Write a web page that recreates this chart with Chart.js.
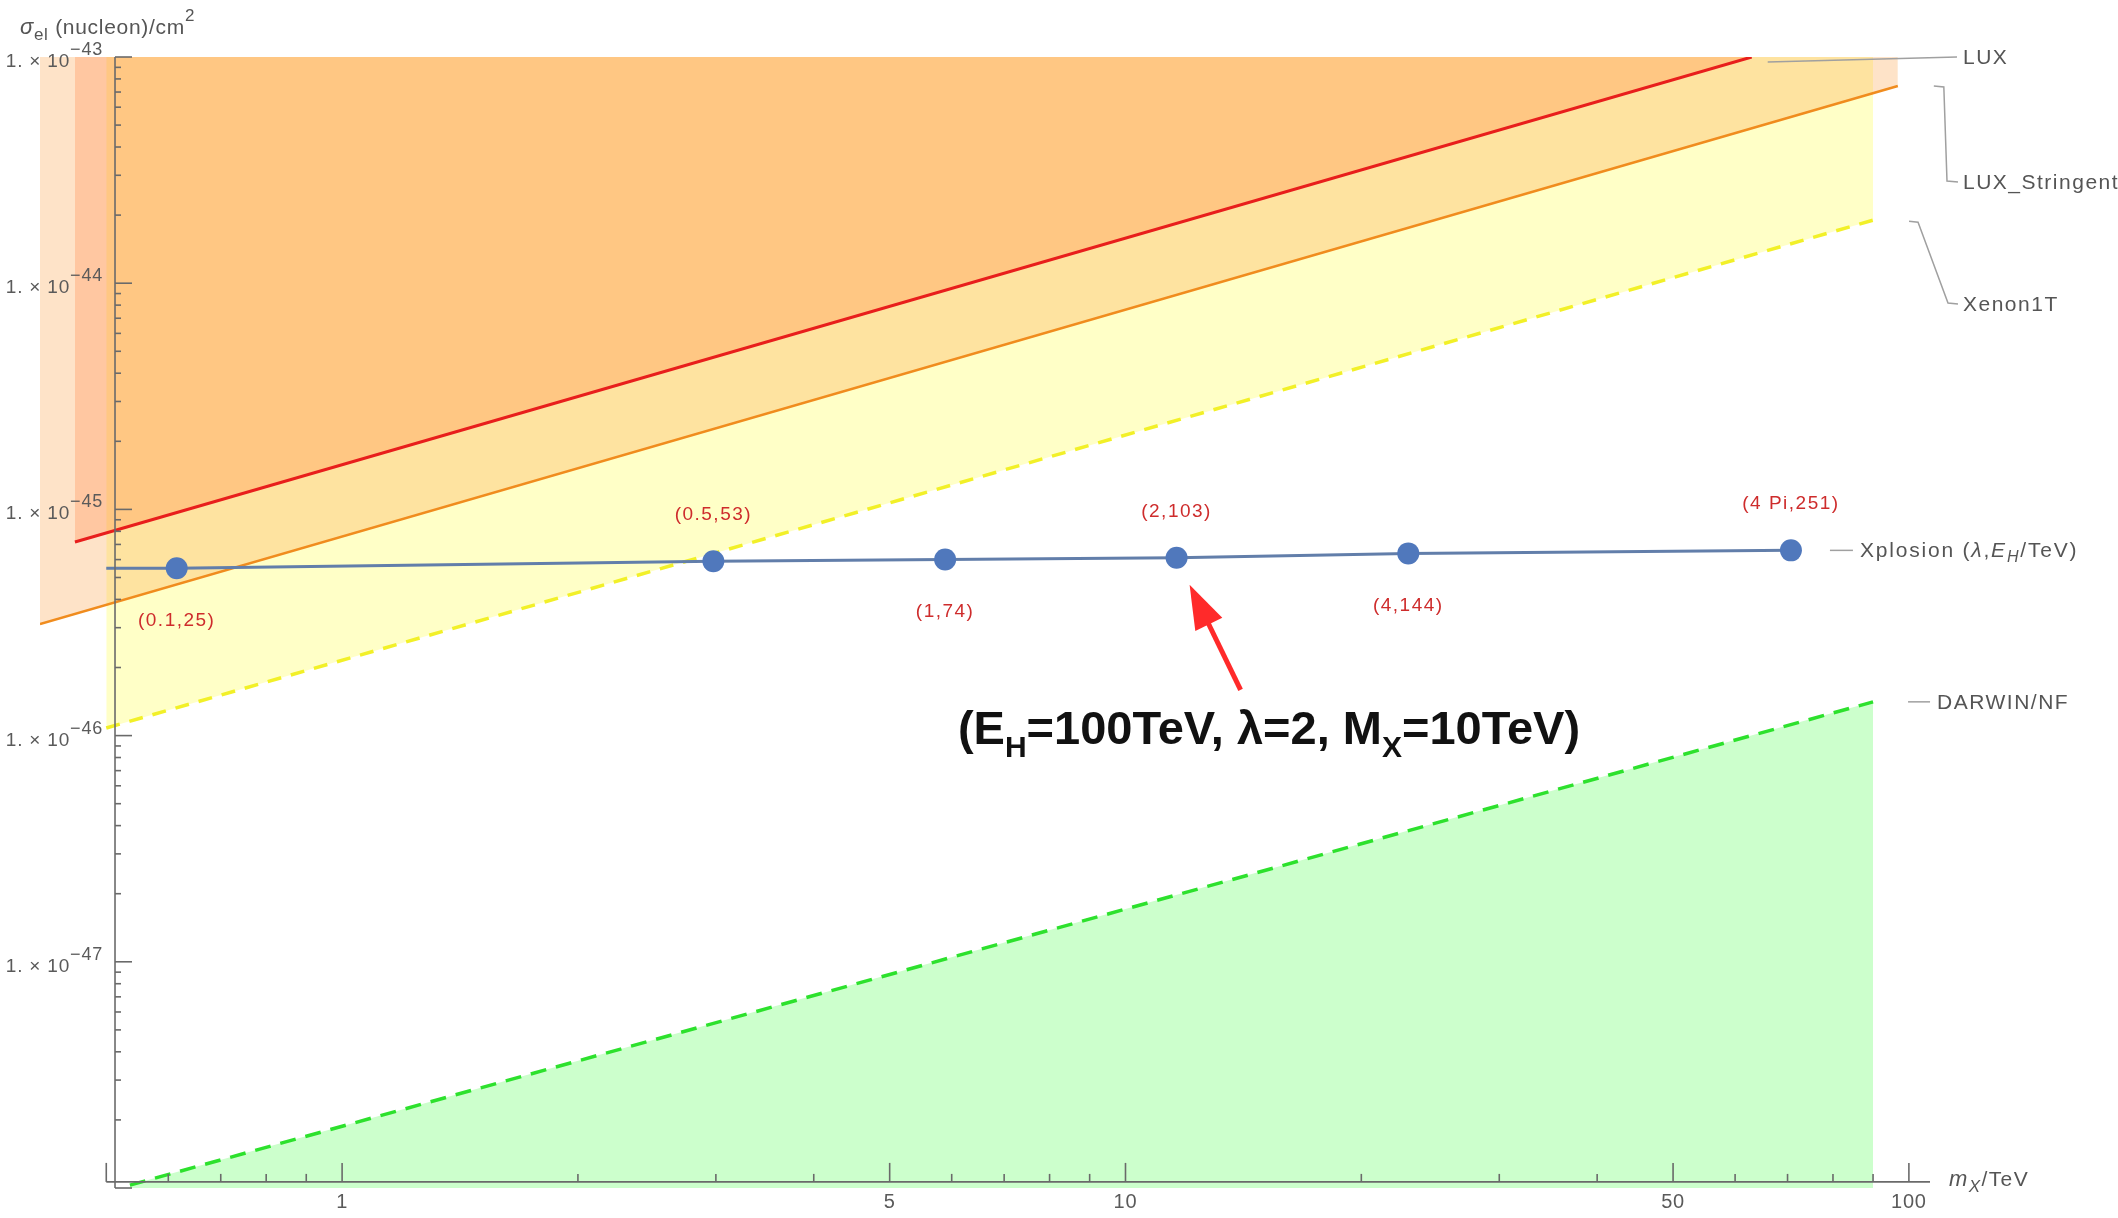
<!DOCTYPE html>
<html>
<head>
<meta charset="utf-8">
<script src="https://cdn.jsdelivr.net/npm/chart.js@4/dist/chart.umd.min.js"></script>
<style>
  html, body { margin: 0; padding: 0; background: #fff; }
  #wrap { width: 2118px; height: 1218px; position: relative; }
  canvas { display: block; }
</style>
</head>
<body>
<div id="wrap"><canvas id="c" width="2118" height="1218"></canvas></div>
<script>
// Dark-matter direct detection limits: WIMP mass m_X (TeV) vs sigma_el per nucleon (cm^2)
const luxMass = [0.456, 63.0];
const luxSigma = [7.18e-46, 1.0e-43];
const luxStrMass = [0.4115, 96.8];
const luxStrSigma = [3.11e-46, 7.44e-44];
const xenonMass = [0.5, 90];
const xenonSigma = [1.08e-46, 1.90e-44];
const darwinMass = [0.536, 90];
const darwinSigma = [1.03e-48, 1.41e-46];

// Xplosion curve; marked points carry (lambda, E_H/TeV) labels
const xplosionMass = [0.5, 0.615, 2.978, 5.885, 11.62, 22.96, 70.7];
const xplosionSigma = [5.50e-46, 5.49e-46, 5.90e-46, 6.01e-46, 6.11e-46, 6.39e-46, 6.59e-46];
const xplosionMarked = [false, true, true, true, true, true, true];
const xplosionLabels = ['', '(0.1,25)', '(0.5,53)', '(1,74)', '(2,103)', '(4,144)', '(4 Pi,251)'];
const labelAbove = [false, false, true, false, true, false, true];
const highlightIndex = 4;

// Axis ranges and ticks
const xMin = 0.4115, xMax = 106.4;
const yMin = 1e-48, yMax = 1e-43;
const yAxisAtMass = 0.513;
const xAxisAtSigma = 1.064e-48;
const xMajorTicks = [0.5, 1, 5, 10, 50, 100];
const xTickLabels = ['', '1', '5', '10', '50', '100'];
const xMinorTicks = [0.6, 0.7, 0.8, 0.9, 2, 3, 4, 6, 7, 8, 9, 20, 30, 40, 60, 70, 80, 90];
const yMajorTicks = [1e-48, 1e-47, 1e-46, 1e-45, 1e-44, 1e-43];
const yTickExponents = ['', '\u221247', '\u221246', '\u221245', '\u221244', '\u221243'];

const pts = (xs, ys) => xs.map((x, i) => ({ x: x, y: ys[i] }));

const FONT = '"Liberation Sans", Arial, sans-serif';

function rich(ctx, x, y, parts, align) {
  // parts: [text, font, dy]
  let w = 0;
  parts.forEach(p => { ctx.font = p[1]; w += ctx.measureText(p[0]).width; });
  let cx = align === 'right' ? x - w : align === 'center' ? x - w / 2 : x;
  ctx.textAlign = 'left';
  parts.forEach(p => {
    ctx.font = p[1];
    ctx.fillText(p[0], cx, y + (p[2] || 0));
    cx += ctx.measureText(p[0]).width;
  });
}

function polyline(ctx, p) {
  ctx.beginPath();
  ctx.moveTo(p[0][0], p[0][1]);
  for (let i = 1; i < p.length; i++) ctx.lineTo(p[i][0], p[i][1]);
  ctx.stroke();
}

const decor = {
  id: 'decor',
  afterDatasetsDraw(chart) {
    const ctx = chart.ctx;
    const xs = chart.scales.x, ys = chart.scales.y;
    const px = v => xs.getPixelForValue(v);
    const py = v => ys.getPixelForValue(v);
    const ax = px(yAxisAtMass);
    const ay = py(xAxisAtSigma);
    ctx.save();

    // axes
    ctx.strokeStyle = '#6a6a6a';
    ctx.lineWidth = 1.6;
    polyline(ctx, [[px(xMajorTicks[0]), ay], [chart.chartArea.right, ay]]);
    polyline(ctx, [[ax, py(yMin)], [ax, py(yMax)]]);
    xMajorTicks.forEach(v => polyline(ctx, [[px(v), ay], [px(v), ay - 19]]));
    xMinorTicks.forEach(v => polyline(ctx, [[px(v), ay], [px(v), ay - 8]]));
    yMajorTicks.forEach(v => polyline(ctx, [[ax, py(v)], [ax + 17, py(v)]]));
    for (let d = -48; d < -43; d++) {
      for (let k = 2; k <= 9; k++) {
        const v = k * Math.pow(10, d);
        if (v > xAxisAtSigma) polyline(ctx, [[ax, py(v)], [ax + 6, py(v)]]);
      }
    }

    // tick labels
    ctx.fillStyle = '#5a5a5a';
    ctx.letterSpacing = '0.8px';
    ctx.textBaseline = 'alphabetic';
    xMajorTicks.forEach((v, i) => {
      if (!xTickLabels[i]) return;
      ctx.font = '20px ' + FONT;
      ctx.textAlign = 'center';
      ctx.fillText(xTickLabels[i], px(v), ay + 26);
    });
    yMajorTicks.forEach((v, i) => {
      if (!yTickExponents[i]) return;
      const t = py(v);
      rich(ctx, ax - 12, t + 10, [
        ['1. \u00d7 10', '19px ' + FONT, 0],
        [yTickExponents[i], '18px ' + FONT, -12]
      ], 'right');
    });

    // axis titles
    ctx.fillStyle = '#555';
    ctx.letterSpacing = '0.7px';
    rich(ctx, 20, 34, [
      ['\u03c3', 'italic 22px ' + FONT, 0],
      ['el', '17px ' + FONT, 6],
      [' (nucleon)/cm', '21px ' + FONT, 0],
      ['2', '17px ' + FONT, -13]
    ], 'left');
    ctx.letterSpacing = '1.4px';
    rich(ctx, 1949, 1186, [
      ['m', 'italic 22px ' + FONT, 0],
      ['X', 'italic 17px ' + FONT, 6],
      ['/TeV', '21px ' + FONT, 0]
    ], 'left');

    // series labels with leader lines
    ctx.strokeStyle = '#a0a0a0';
    ctx.lineWidth = 1.5;
    const luxEnd = [px(luxMass[1]), py(luxSigma[1])];
    const strEnd = [px(luxStrMass[1]), py(luxStrSigma[1])];
    const xenEnd = [px(xenonMass[1]), py(xenonSigma[1])];
    const darEnd = [px(darwinMass[1]), py(darwinSigma[1])];
    const xpEnd = [px(xplosionMass[xplosionMass.length - 1]), py(xplosionSigma[xplosionSigma.length - 1])];
    polyline(ctx, [[luxEnd[0] + 16, luxEnd[1] + 5], [1957, luxEnd[1]]]);
    polyline(ctx, [[strEnd[0] + 36, strEnd[1]], [strEnd[0] + 46, strEnd[1] + 1], [1947, 181], [1958, 182]]);
    polyline(ctx, [[xenEnd[0] + 36, xenEnd[1] + 1], [xenEnd[0] + 45, xenEnd[1] + 2], [1948, 303], [1958, 304]]);
    polyline(ctx, [[xpEnd[0] + 39, xpEnd[1]], [xpEnd[0] + 62, xpEnd[1]]]);
    polyline(ctx, [[darEnd[0] + 35, darEnd[1]], [darEnd[0] + 57, darEnd[1]]]);

    ctx.fillStyle = '#555';
    ctx.letterSpacing = '1.5px';
    ctx.textAlign = 'left';
    ctx.font = '21px ' + FONT;
    ctx.fillText('LUX', 1963, luxEnd[1] + 7);
    ctx.fillText('LUX_Stringent', 1963, 189);
    ctx.fillText('Xenon1T', 1963, 311);
    ctx.fillText('DARWIN/NF', darEnd[0] + 64, darEnd[1] + 7);
    ctx.letterSpacing = '1.8px';
    rich(ctx, xpEnd[0] + 69, xpEnd[1] + 7, [
      ['Xplosion (', '21px ' + FONT, 0],
      ['\u03bb', 'italic 21px ' + FONT, 0],
      [',', '21px ' + FONT, 0],
      ['E', 'italic 21px ' + FONT, 0],
      ['H', 'italic 16px ' + FONT, 5],
      ['/TeV)', '21px ' + FONT, 0]
    ], 'left');

    // point labels
    ctx.fillStyle = 'rgb(206,44,44)';
    ctx.letterSpacing = '1.5px';
    ctx.font = '19px ' + FONT;
    ctx.textAlign = 'center';
    xplosionMass.forEach((m, i) => {
      if (!xplosionLabels[i]) return;
      const X = px(m), Y = py(xplosionSigma[i]);
      ctx.fillText(xplosionLabels[i], X, labelAbove[i] ? Y - 41 : Y + 58);
    });

    // highlighted benchmark: arrow and caption
    const hx = px(xplosionMass[highlightIndex]), hy = py(xplosionSigma[highlightIndex]);
    const tip = [hx + 13, hy + 27], tail = [hx + 64, hy + 132];
    const dx = tip[0] - tail[0], dy = tip[1] - tail[1];
    const len = Math.hypot(dx, dy), ux = dx / len, uy = dy / len;
    const hl = 44, hw = 15;
    const base = [tip[0] - ux * hl, tip[1] - uy * hl];
    ctx.strokeStyle = 'rgb(255,42,42)';
    ctx.fillStyle = 'rgb(255,42,42)';
    ctx.lineWidth = 5;
    polyline(ctx, [tail, [base[0] + ux * 4, base[1] + uy * 4]]);
    ctx.beginPath();
    ctx.moveTo(tip[0], tip[1]);
    ctx.lineTo(base[0] - uy * hw, base[1] + ux * hw);
    ctx.lineTo(base[0] + uy * hw, base[1] - ux * hw);
    ctx.closePath();
    ctx.fill();

    ctx.fillStyle = '#111';
    ctx.letterSpacing = '0px';
    rich(ctx, 1269, 744, [
      ['(E', 'bold 47px ' + FONT, 0],
      ['H', 'bold 30px ' + FONT, 13],
      ['=100TeV, \u03bb=2, M', 'bold 47px ' + FONT, 0],
      ['X', 'bold 30px ' + FONT, 13],
      ['=10TeV)', 'bold 47px ' + FONT, 0]
    ], 'center');

    ctx.restore();
  }
};

new Chart(document.getElementById('c').getContext('2d'), {
  type: 'line',
  data: {
    datasets: [
      {
        label: 'Xplosion (\u03bb,E_H/TeV)',
        data: pts(xplosionMass, xplosionSigma),
        borderColor: 'rgb(98,126,170)',
        borderWidth: 3,
        pointRadius: xplosionMarked.map(m => m ? 11 : 0),
        pointBackgroundColor: 'rgb(80,120,188)',
        pointBorderWidth: 0,
        fill: false,
        tension: 0
      },
      {
        label: 'LUX',
        data: pts(luxMass, luxSigma),
        borderColor: 'rgb(232,30,28)',
        borderWidth: 3,
        pointRadius: 0,
        fill: 'end',
        backgroundColor: 'rgba(255,115,45,0.25)'
      },
      {
        label: 'LUX_Stringent',
        data: pts(luxStrMass, luxStrSigma),
        borderColor: 'rgb(240,140,30)',
        borderWidth: 2.5,
        pointRadius: 0,
        fill: 'end',
        backgroundColor: 'rgba(250,150,50,0.27)'
      },
      {
        label: 'Xenon1T',
        data: pts(xenonMass, xenonSigma),
        borderColor: 'rgb(242,240,40)',
        borderWidth: 3.5,
        borderDash: [14, 10],
        pointRadius: 0,
        fill: 'end',
        backgroundColor: 'rgba(255,255,0,0.22)'
      },
      {
        label: 'DARWIN/NF',
        data: pts(darwinMass, darwinSigma),
        borderColor: 'rgb(45,225,45)',
        borderWidth: 3.5,
        borderDash: [16, 10],
        pointRadius: 0,
        fill: 'start',
        backgroundColor: 'rgb(204,255,204)'
      }
    ]
  },
  options: {
    animation: false,
    responsive: false,
    layout: { padding: { left: 40, top: 57, right: 188, bottom: 30 } },
    scales: {
      x: { type: 'logarithmic', min: xMin, max: xMax, display: false },
      y: { type: 'logarithmic', min: yMin, max: yMax, display: false }
    },
    plugins: {
      legend: { display: false },
      tooltip: { enabled: false },
      filler: { drawTime: 'beforeDatasetsDraw' }
    }
  },
  plugins: [decor]
});
</script>
</body>
</html>
